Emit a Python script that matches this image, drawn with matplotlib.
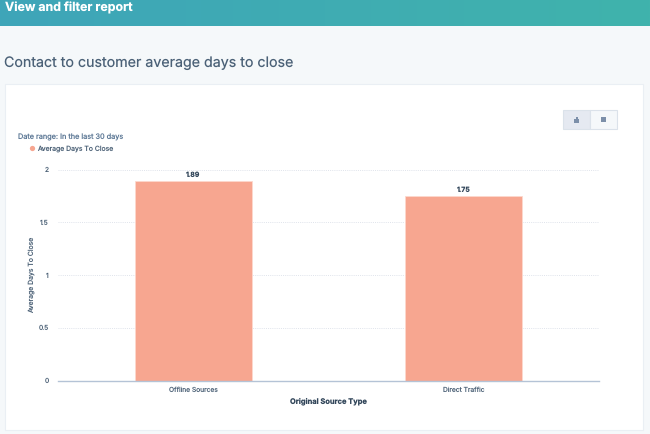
import numpy as np
import matplotlib
matplotlib.use("Agg")
import matplotlib.pyplot as plt
from matplotlib.patches import Rectangle

categories = ["Offline Sources", "Direct Traffic"]
avg_days = [1.89, 1.75]
value_labels = ["1.89", "1.75"]
y_ticks = [0, 0.5, 1, 1.5, 2]
y_tick_labels = ["0", "0.5", "1", "1.5", "2"]

W, H = 650, 434
plt.rcParams['font.family'] = ['Inter', 'DejaVu Sans']
plt.rcParams['text.hinting'] = 'no_hinting'
plt.rcParams['text.hinting_factor'] = 1
DARK = "#33475b"
SOFT = "#4f6479"
BAR = "#f7a690"

fig = plt.figure(figsize=(W/100, H/100), dpi=100, facecolor="#f5f8fa")

def px_axes(x0, y0, x1, y1, **kw):
    return fig.add_axes([x0/W, 1-y1/H, (x1-x0)/W, (y1-y0)/H], **kw)

def rect(x0, y0, x1, y1, **kw):
    fig.add_artist(Rectangle((x0/W, 1-y1/H), (x1-x0)/W, (y1-y0)/H,
                             transform=fig.transFigure, **kw))

def text(x, y, s, **kw):
    fig.text(x/W, 1-y/H, s, **kw)

# header gradient
hdr = px_axes(0, 0, W, 26)
grad = np.linspace(0, 1, 256).reshape(1, -1, 1)
c0 = np.array([0x3e, 0xa5, 0xb9])/255
c1 = np.array([0x40, 0xb3, 0xac])/255
hdr.imshow(c0 + (c1-c0)*grad, aspect="auto", extent=[0, 1, 0, 1])
hdr.axis("off")
text(5, 8, "View and filter report", color="white", fontsize=8.9, fontweight="bold",
     va="center", ha="left")
text(4.5, 63, "Contact to customer average days to close", color="#4b6177",
     fontsize=10.25, va="center", ha="left")

# card
rect(5, 84, 643, 429.5, facecolor="white", edgecolor="#eaeff4", linewidth=0.8, zorder=0)

# toggle buttons
rect(563, 110.5, 590, 128.5, facecolor="#e5e9f1", edgecolor="#dbe2ea", linewidth=0.8)
rect(590, 110.5, 616.5, 128.5, facecolor="#f5f8fa", edgecolor="#dbe2ea", linewidth=0.8)
rect(574, 119, 579, 122.5, facecolor="#7c8fa9", edgecolor="none")
rect(576, 116.5, 578, 119, facecolor="#7c8fa9", edgecolor="none")
rect(600.5, 116.5, 605.5, 122, facecolor="#7c8fa9", edgecolor="none")
rect(600.5, 118.6, 605.5, 119.1, facecolor="#f5f8fa", edgecolor="none")
rect(602.5, 118.6, 603, 122, facecolor="#f5f8fa", edgecolor="none")

text(18.5, 137.2, "Date range: In the last 30 days", color="#5f7a97", fontsize=5.25,
     va="center", ha="left")
fig.add_artist(plt.Line2D([32/W], [1-148/H], marker="o", markersize=3.8, color=BAR,
                          markeredgecolor="none", linestyle="none", transform=fig.transFigure))
text(37.5, 148.7, "Average Days To Close", color=SOFT, fontsize=4.95, va="center", ha="left")

# chart
ax = px_axes(58, 169.5, 599, 380.5)
ax.patch.set_alpha(0)
x = np.arange(len(categories))
ax.bar(x, avg_days, width=0.434, color=BAR, edgecolor="#fdd9cd", linewidth=0.6, zorder=3)
ax.set_xlim(-0.5, 1.5)
ax.set_ylim(0, 2)
ax.set_yticks(y_ticks, y_tick_labels)
ax.set_xticks(x, categories)
ax.grid(axis="y", color="#dfe3eb", linestyle=(0, (1, 1.2)), linewidth=0.7, zorder=0)
ax.tick_params(axis="both", length=0, labelsize=4.8, labelcolor=SOFT)
ax.tick_params(axis="y", pad=6.5)
ax.tick_params(axis="x", pad=4.5)
for s in ["top", "right", "left"]:
    ax.spines[s].set_visible(False)
ax.spines["bottom"].set_color("#b4c3d6")
ax.spines["bottom"].set_linewidth(1.0)
ax.spines["bottom"].set_zorder(4)
for xi, v, lab in zip(x, avg_days, value_labels):
    ax.annotate(lab, (xi, v), xytext=(0, 1.8), textcoords="offset points", ha="center",
                va="bottom", fontsize=5.0, fontweight="bold", color=DARK)
text(32, 274.5, "Average Days To Close", color=SOFT, fontsize=4.95, rotation=90,
     va="center", ha="center")
text(328.5, 401, "Original Source Type", color=DARK, fontsize=5.4, fontweight="bold",
     va="center", ha="center")

fig.savefig("out.png", dpi=100, facecolor=fig.get_facecolor())
